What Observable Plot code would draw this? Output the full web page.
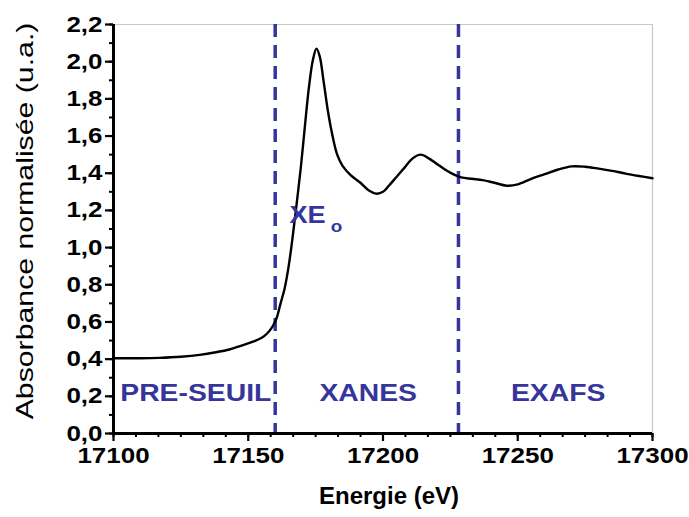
<!DOCTYPE html>
<html>
<head>
<meta charset="utf-8">
<script src="https://cdn.jsdelivr.net/npm/d3@7"></script>
<script src="https://cdn.jsdelivr.net/npm/@observablehq/plot@0.6"></script>
<style>
  html, body { margin: 0; padding: 0; background: #fff; }
</style>
</head>
<body>
<div id="chart"></div>
<script>
const energy = [17100,17110,17117,17125,17132,17138,17143,17148,17152,17155,17157,17159,17160.5,17162,17163.5,17165,17166.5,17168,17169.5,17171,17172.5,17174,17175.3,17176.5,17178,17179.5,17181,17183,17185,17188,17191.5,17194.5,17197.5,17200,17202,17205,17208,17211,17214,17217,17220,17223,17226,17229,17233,17237,17241,17246,17250,17255,17260,17265,17270,17275,17280,17285,17290,17295,17300];
const absorbance = [0.405,0.405,0.407,0.413,0.423,0.437,0.452,0.475,0.495,0.515,0.538,0.575,0.62,0.70,0.78,0.90,1.06,1.24,1.43,1.65,1.86,2.01,2.07,2.03,1.89,1.74,1.62,1.50,1.44,1.39,1.35,1.31,1.29,1.30,1.33,1.38,1.43,1.48,1.50,1.48,1.45,1.42,1.395,1.378,1.37,1.363,1.35,1.333,1.34,1.37,1.395,1.42,1.437,1.435,1.425,1.413,1.398,1.385,1.373];

const xTicks = [17100, 17150, 17200, 17250, 17300];
const yTicks = [0, 0.2, 0.4, 0.6, 0.8, 1.0, 1.2, 1.4, 1.6, 1.8, 2.0, 2.2];
const xMinor = d3.range(0, 25).map(i => 17100 + i * 50 / 6).filter(v => v <= 17300);
const yMinor = d3.range(0, 23).map(i => i * 0.1);
const edgeLines = [17160, 17228];
const startLabel = ["PRE-SEUIL"];
const startLabelX = [17102.5];
const regionLabels = ["XANES", "EXAFS"];
const regionX = [17194.5, 17265];
const regionY = 0.215;
const edgeLabel = "XE";
const edgeSub = "o";
const xTitle = "Energie (eV)";
const yTitle = "Absorbance normalisée (u.a.)";

const curve = energy.map((e, i) => ({e, a: absorbance[i]}));
const regions = regionLabels.map((t, i) => ({t, x: regionX[i], y: regionY}));
const starts = startLabel.map((t, i) => ({t, x: startLabelX[i], y: regionY}));
const blue = "#35359c";
const comma = d => d.toFixed(1).replace(".", ",");

const chart = Plot.plot({
  width: 689,
  height: 517,
  marginLeft: 113,
  marginRight: 37,
  marginTop: 24,
  marginBottom: 84,
  style: {fontFamily: "'Liberation Sans', Arial, sans-serif", fontSize: "22px", fontWeight: "bold", color: "black", background: "white"},
  x: {domain: [17100, 17300]},
  y: {domain: [0, 2.2]},
  marks: [
    Plot.ruleY([2.2], {stroke: "#c8c8c8", strokeWidth: 1.2}),
    Plot.ruleX([17300], {stroke: "#c8c8c8", strokeWidth: 1.2}),
    Plot.ruleX(edgeLines, {stroke: blue, strokeWidth: 3.5, strokeDasharray: "13,8"}),
    Plot.line(curve, {x: "e", y: "a", stroke: "black", strokeWidth: 2.4, curve: "catmull-rom"}),
    Plot.axisX({ticks: xMinor, tickSize: 4, text: null, strokeWidth: 2}),
    Plot.axisY({ticks: yMinor, tickSize: 4, text: null, strokeWidth: 2}),
    Plot.axisX({ticks: xTicks, tickSize: 8, tickPadding: 6, tickFormat: d3.format("d"), label: null, strokeWidth: 2.2}),
    Plot.axisY({ticks: yTicks, tickSize: 8, tickPadding: 3, tickFormat: comma, label: null, strokeWidth: 2.2}),
    Plot.ruleX([17100], {stroke: "black", strokeWidth: 3}),
    Plot.ruleY([0], {stroke: "black", strokeWidth: 3}),
    Plot.text(starts, {x: "x", y: "y", text: "t", fill: blue, fontSize: 24, fontWeight: "bold", textAnchor: "start"}),
    Plot.text(regions, {x: "x", y: "y", text: "t", fill: blue, fontSize: 24, fontWeight: "bold", textAnchor: "middle"}),
    Plot.text([edgeLabel], {x: [17165.3], y: [1.17], text: d => d, fill: blue, fontSize: 23, fontWeight: "bold", textAnchor: "start"}),
    Plot.text([edgeSub], {x: [17180.6], y: [1.11], text: d => d, fill: blue, fontSize: 16, fontWeight: "bold", textAnchor: "start"}),
    Plot.text([xTitle], {frameAnchor: "bottom", dy: 70, dx: 6, fontSize: 24, fontWeight: "bold"}),
    Plot.text([yTitle], {frameAnchor: "left", dx: -88, dy: -8, rotate: -90, textAnchor: "middle", fontSize: 24, fontWeight: "normal"})
  ]
});
document.getElementById("chart").appendChild(chart);

// horizontal stretch of glyphs, as in the reference rendering
d3.select(chart).selectAll("text").each(function() {
  const t = this.textContent;
  const f = t === yTitle ? 1.26 : (t === xTitle ? 1.0 : 1.18);
  const len = this.getComputedTextLength();
  if (len > 0) {
    this.setAttribute("textLength", len * f);
    this.setAttribute("lengthAdjust", "spacingAndGlyphs");
  }
});
</script>
</body>
</html>
